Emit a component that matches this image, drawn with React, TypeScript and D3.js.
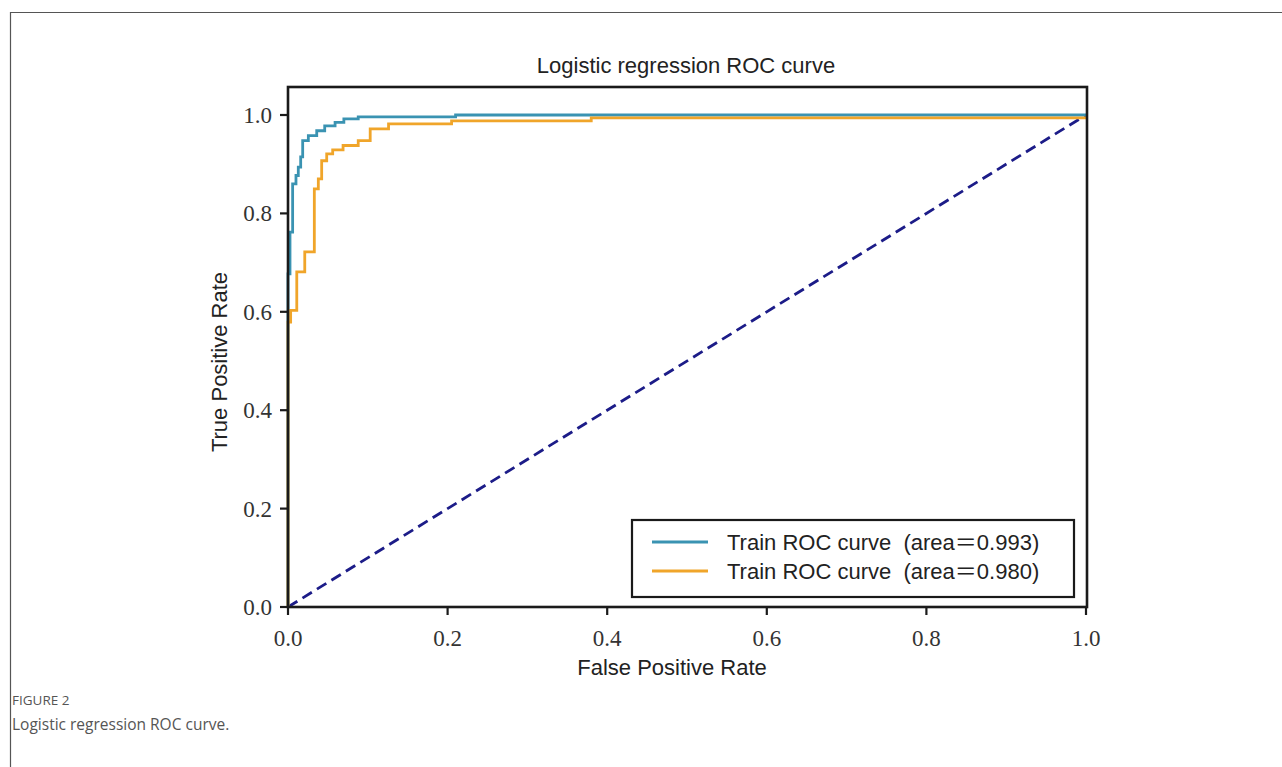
import React from 'react'
import * as d3 from 'd3'

// ROC vertices (fpr, tpr)
const blueFpr = [0, 0, 0.0025, 0.0025, 0.0058, 0.0058, 0.01, 0.01, 0.0129, 0.0129, 0.0159, 0.0159, 0.0184, 0.0184, 0.0255, 0.0255, 0.036, 0.036, 0.046, 0.046, 0.059, 0.059, 0.07, 0.07, 0.088, 0.088, 0.21, 0.21, 1.0]
const blueTpr = [0, 0.677, 0.677, 0.762, 0.762, 0.86, 0.86, 0.877, 0.877, 0.894, 0.894, 0.915, 0.915, 0.948, 0.948, 0.958, 0.958, 0.968, 0.968, 0.978, 0.978, 0.985, 0.985, 0.992, 0.992, 0.996, 0.996, 1.0, 1.0]

const orangeFpr = [0, 0, 0.0033, 0.0033, 0.011, 0.011, 0.021, 0.021, 0.033, 0.033, 0.038, 0.038, 0.0422, 0.0422, 0.0485, 0.0485, 0.056, 0.056, 0.069, 0.069, 0.088, 0.088, 0.103, 0.103, 0.126, 0.126, 0.205, 0.205, 0.38, 0.38, 1.0]
const orangeTpr = [0, 0.579, 0.579, 0.603, 0.603, 0.681, 0.681, 0.722, 0.722, 0.85, 0.85, 0.87, 0.87, 0.907, 0.907, 0.921, 0.921, 0.929, 0.929, 0.938, 0.938, 0.948, 0.948, 0.972, 0.972, 0.982, 0.982, 0.988, 0.988, 0.994, 0.994]

const chanceLine = [0, 1]
const ticks = [0, 0.2, 0.4, 0.6, 0.8, 1.0]
const legendNames = ['Train ROC curve', 'Train ROC curve']
const legendAreas = ['0.993', '0.980']
const seriesColors = ['#3a93b2', '#f0a52a']

const sans = '"Liberation Sans", Arial, sans-serif'
const serif = '"Liberation Serif", "Times New Roman", serif'
const cjk = '"Noto Sans CJK SC", sans-serif'

function App() {
    const margin = { top: 87, left: 288, right: 1087, bottom: 607 }
    const x = d3.scaleLinear().domain([0, 1]).range([margin.left, margin.right - 1])
    const y = d3.scaleLinear().domain([0, 1.0]).range([margin.bottom, 115])

    const line = d3.line<[number, number]>().x(d => x(d[0])).y(d => y(d[1]))
    const blue = line(blueFpr.map((f, i) => [f, blueTpr[i]]))
    const orange = line(orangeFpr.map((f, i) => [f, orangeTpr[i]]))
    const diag = line(chanceLine.map(v => [v, v]))

    return <div style={{ position: 'absolute', left: 0, top: 0 }}>
        <svg width={1282} height={767} style={{ display: 'block', background: '#fff' }}>
            {/* outer frame */}
            <path d="M10.5,767 V12.5 H1282" fill="none" stroke="#555" strokeWidth={1.2} />

            <text x={686} y={73} textAnchor="middle" fontFamily={sans} fontSize={22} fill="#222">Logistic regression ROC curve</text>

            {/* plot area */}
            <rect x={margin.left} y={margin.top} width={margin.right - margin.left} height={margin.bottom - margin.top} fill="#fff" />

            <path d={diag!} fill="none" stroke="#1c1c88" strokeWidth={2.8} strokeDasharray="11,6" />
            <path d={blue!} fill="none" stroke={seriesColors[0]} strokeWidth={2.8} />
            <path d={orange!} fill="none" stroke={seriesColors[1]} strokeWidth={2.8} />

            <rect x={margin.left} y={margin.top} width={margin.right - margin.left} height={margin.bottom - margin.top} fill="none" stroke="#1a1a1a" strokeWidth={2.6} />

            {/* y ticks */}
            {ticks.map(t => <g key={'y' + t}>
                <line x1={margin.left - 8} x2={margin.left} y1={y(t)} y2={y(t)} stroke="#1a1a1a" strokeWidth={2.2} />
                <text x={272} y={y(t) + 8} textAnchor="end" fontFamily={serif} fontSize={23} fill="#333">{t.toFixed(1)}</text>
            </g>)}
            {/* x ticks */}
            {ticks.map(t => <g key={'x' + t}>
                <line x1={x(t)} x2={x(t)} y1={margin.bottom} y2={margin.bottom + 8} stroke="#1a1a1a" strokeWidth={2.2} />
                <text x={x(t)} y={646} textAnchor="middle" fontFamily={serif} fontSize={23} fill="#333">{t.toFixed(1)}</text>
            </g>)}

            <text x={672} y={675} textAnchor="middle" fontFamily={sans} fontSize={22} fill="#222">False Positive Rate</text>
            <text transform="translate(227,362) rotate(-90)" textAnchor="middle" fontFamily={sans} fontSize={22} fill="#222">True Positive Rate</text>

            {/* legend */}
            <rect x={632} y={520} width={442} height={77} fill="#fff" stroke="#1a1a1a" strokeWidth={2.2} />
            {legendNames.map((l, i) => <g key={i}>
                <line x1={652} x2={708} y1={542 + i * 29} y2={542 + i * 29} stroke={seriesColors[i]} strokeWidth={2.8} />
                <text x={727} y={550 + i * 29} fontFamily={sans} fontSize={22} fill="#222" style={{ whiteSpace: 'pre' }}>
                    {l + '  (area'}<tspan fontFamily={cjk}>{'\uFF1D'}</tspan>{legendAreas[i] + ')'}
                </text>
            </g>)}

            {/* caption */}
            <text x={12} y={705} fontFamily='"Open Sans", sans-serif' fontSize={13.5} fill="#555">FIGURE 2</text>
            <text x={12} y={730} fontFamily='"Open Sans", sans-serif' fontSize={15.5} fill="#555">Logistic regression ROC curve.</text>
        </svg>
    </div>
}

export default App
